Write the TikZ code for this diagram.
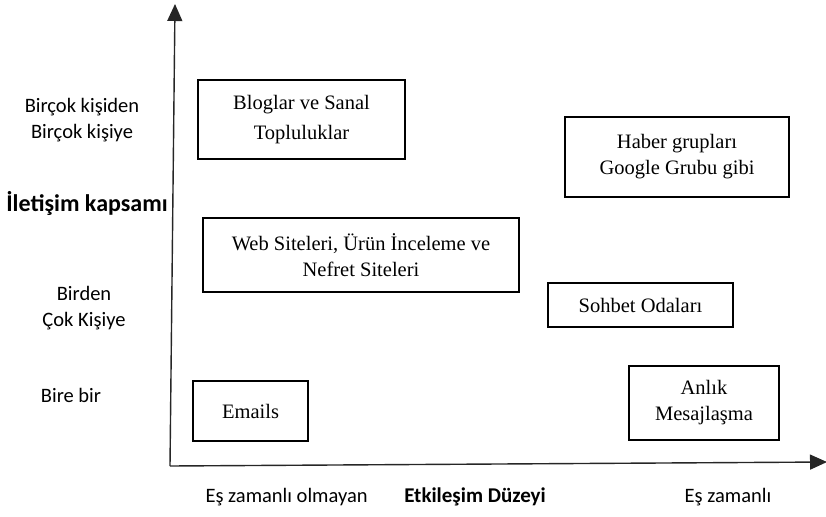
\documentclass[tikz,border=0pt]{standalone}
\usepackage{fontspec}
\setmainfont{Liberation Serif}
\newfontfamily\axfont{Carlito}
\usetikzlibrary{arrows.meta}
\tikzset{
	box/.style={draw, line width=2.2pt, align=center, inner sep=0pt,
		font=\fontsize{20.5}{26}\selectfont},
	lbl/.style={align=center, font=\axfont\fontsize{20.5}{26}\selectfont},
	title/.style={font=\axfont\bfseries\fontsize{#1}{26}\selectfont},
	axis/.style={line width=1.4pt, black!85, -{Triangle[length=17pt,width=15pt]}}
}
\begin{document}
\begin{tikzpicture}[x=1pt,y=-1pt]
	\useasboundingbox (0,0) rectangle (826,516);
	% axes
	\coordinate (o) at (170,466);
	\coordinate (ytip) at (175,4);
	\coordinate (xtip) at (827,462);
	\draw[axis] (o) -- (ytip);
	\draw[axis] (o) -- (xtip);
	% boxes
	\node[box, minimum width=207pt, minimum height=79pt] (blog) at (301.5,119.5) {Bloglar ve Sanal\\[4pt]Topluluklar};
	\node[box, minimum width=224pt, minimum height=80pt] (haber) at (677,157) {Haber grupları\\Google Grubu gibi};
	\node[box, minimum width=316pt, minimum height=74pt] (web) at (361,255) {Web Siteleri, Ürün İnceleme ve\\Nefret Siteleri};
	\node[box, minimum width=185pt, minimum height=44pt] (sohbet) at (640.5,305) {Sohbet Odaları};
	\node[box, minimum width=115pt, minimum height=60pt] (email) at (250.5,411) {Emails};
	\node[box, minimum width=150pt, minimum height=74pt] (anlik) at (704,403) {Anlık\\Mesajlaşma};
	% axis labels
	\node[lbl] (cokcok) at (82,120) {Birçok kişiden\\Birçok kişiye};
	\node[title=24] (kapsam) at (87,203) {İletişim kapsamı};
	\node[lbl] (birden) at (84,308) {Birden\\Çok Kişiye};
	\node[lbl] (birebir) at (71,395) {Bire bir};
	\node[lbl, anchor=west] (esyok) at (202,497) {Eş zamanlı olmayan};
	\node[title=21] (duzey) at (475,497) {Etkileşim Düzeyi};
	\node[lbl] (es) at (728,497) {Eş zamanlı};
\end{tikzpicture}
\end{document}
